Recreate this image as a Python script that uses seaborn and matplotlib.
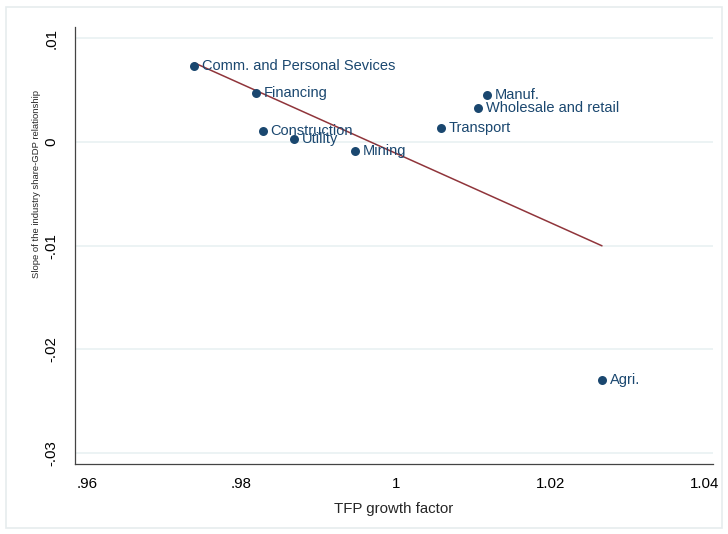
import matplotlib
matplotlib.use('Agg')
import pandas as pd
import matplotlib.pyplot as plt
import seaborn as sns
from matplotlib.patches import Rectangle

# values
sectors = ['Comm. and Personal Sevices', 'Financing', 'Construction', 'Utility',
           'Mining', 'Transport', 'Wholesale and retail', 'Manuf.', 'Agri.']
tfp_growth = [0.9739, 0.9819, 0.9828, 0.9868, 0.9947, 1.0058, 1.0107, 1.0118, 1.0267]
share_slope = [0.0073, 0.0047, 0.00103, 0.00026, -0.0009, 0.00132, 0.00325, 0.0045, -0.0230]

x_ticks = [0.96, 0.98, 1.00, 1.02, 1.04]
x_ticklabels = ['.96', '.98', '1', '1.02', '1.04']
y_ticks = [-0.03, -0.02, -0.01, 0.0, 0.01]
y_ticklabels = ['-.03', '-.02', '-.01', '0', '.01']

df = pd.DataFrame({'sector': sectors, 'tfp': tfp_growth, 'slope': share_slope})

navy = '#1a476f'
maroon = '#90353b'
grid_col = '#eaf2f3'

sns.set_style('white')
plt.rcParams['font.family'] = ['Liberation Sans', 'DejaVu Sans']

fig = plt.figure(figsize=(7.28, 5.34), dpi=100)
ax = fig.add_axes([0.103, 0.131, 0.876, 0.818])

# faint outer frame of the graph region
fig.patches.append(Rectangle((6 / 728, 6 / 534), 716 / 728, 521 / 534, transform=fig.transFigure,
                             fill=False, edgecolor='#e6ecee', linewidth=1.2))

for yv in y_ticks:
    ax.axhline(yv, color=grid_col, linewidth=1.3, zorder=0)

sns.regplot(x='tfp', y='slope', data=df, scatter=False, ci=None, truncate=True,
            line_kws={'color': maroon, 'linewidth': 1.1, 'zorder': 2}, ax=ax)
sns.scatterplot(x='tfp', y='slope', data=df, color=navy, s=42, edgecolor=navy,
                linewidth=0, zorder=3, ax=ax)

for name, xv, yv in zip(sectors, tfp_growth, share_slope):
    ax.annotate(name, (xv, yv), xytext=(5.5, 0), textcoords='offset points',
                va='center', ha='left', color=navy, fontsize=10.5, zorder=4)

ax.set_xlim(0.95845, 1.04104)
ax.set_ylim(-0.03106, 0.01106)
ax.set_xticks(x_ticks)
ax.set_yticks(y_ticks)

tick_font = {'family': ['Liberation Sans'], 'size': 10.8}
ax.set_xticklabels(x_ticklabels, fontdict=tick_font)
ax.set_yticklabels(y_ticklabels, fontdict=tick_font, rotation=90, va='center')
ax.set_xlabel('TFP growth factor', fontdict=tick_font, labelpad=8)
ax.set_ylabel('Slope of the industry share-GDP relationship', fontsize=6.8)
ax.yaxis.set_label_coords(-0.054, 0.64)

ax.tick_params(axis='both', direction='out', length=6, width=0.9, color='#444444',
               labelcolor='black', pad=3)
ax.tick_params(axis='y', pad=6)
for side in ['top', 'right']:
    ax.spines[side].set_visible(False)
for side in ['left', 'bottom']:
    ax.spines[side].set_color('#444444')
    ax.spines[side].set_linewidth(0.9)

fig.savefig('out.png', dpi=100)
